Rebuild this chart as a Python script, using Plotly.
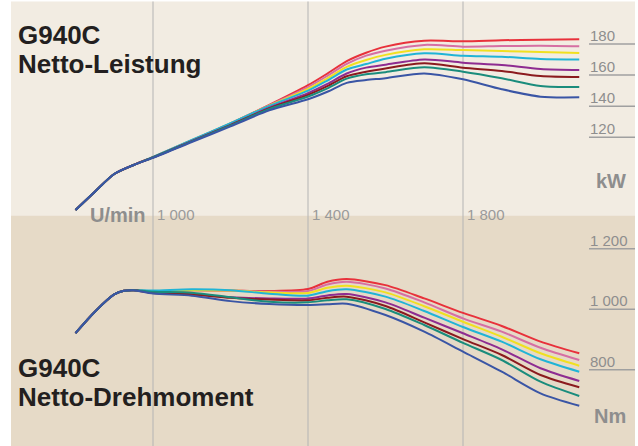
import plotly.graph_objects as go

# ---------------- data ----------------
power_rpm = [800, 850, 900, 950, 1000, 1100, 1200, 1300, 1400, 1450, 1500, 1550, 1600, 1700, 1800, 1900, 2000, 2100]
power_red     = [73.2, 85, 96.4, 102.2, 107.3, 118.0, 129.0, 140.8, 153.5, 161.0, 169.0, 174.4, 178.3, 182.1, 181.7, 182.4, 182.8, 183.0]
power_pink    = [73.2, 85, 96.4, 102.2, 107.3, 118.0, 128.9, 140.5, 152.3, 159.5, 167.2, 172.5, 175.7, 179.4, 178.3, 178.7, 178.9, 178.5]
power_yellow  = [73.2, 85, 96.4, 102.2, 107.3, 118.1, 128.9, 140.3, 151.1, 157.9, 165.3, 169.7, 173.0, 176.6, 176.1, 175.5, 174.9, 174.2]
power_cyan    = [73.2, 85, 96.4, 102.2, 107.4, 118.3, 129.1, 140.2, 150.0, 156.5, 163.6, 167.1, 170.5, 174.0, 172.5, 171.8, 170.4, 170.1]
power_purple  = [73.2, 85, 96.4, 102.2, 107.1, 117.6, 128.0, 139.0, 148.4, 154.3, 161.0, 164.8, 166.7, 170.1, 168.0, 166.5, 163.9, 163.2]
power_darkred = [73.2, 85, 96.4, 102.2, 107.0, 117.4, 127.8, 138.6, 147.3, 152.9, 159.3, 162.2, 164.3, 167.6, 164.8, 162.6, 159.4, 158.8]
power_teal    = [73.2, 85, 96.4, 102.2, 107.0, 117.4, 127.6, 138.2, 146.2, 151.5, 157.7, 160.5, 161.9, 165.0, 162.2, 158.0, 153.0, 152.3]
power_blue    = [73.2, 85, 96.4, 102.2, 106.8, 117.0, 127.0, 137.3, 144.5, 149.3, 155.0, 156.8, 158.0, 161.1, 157.3, 150.9, 146.1, 145.7]

torque_rpm = [800, 850, 900, 925, 950, 1000, 1100, 1200, 1300, 1400, 1450, 1500, 1600, 1700, 1800, 1900, 2000, 2100]
torque_red     = [921, 992, 1049, 1061, 1063, 1060, 1063, 1062, 1060.5, 1067, 1091, 1100, 1080, 1036, 988, 945, 893, 854.5]
torque_pink    = [921, 992, 1049, 1061, 1063, 1060, 1063, 1062, 1058, 1060.5, 1082, 1091, 1069, 1023, 970, 926, 873, 832.4]
torque_yellow  = [921, 992, 1049, 1061, 1063, 1060, 1063, 1062, 1056, 1054, 1071, 1078, 1056, 1010, 959, 909.4, 854.5, 813.6]
torque_cyan    = [921, 992, 1049, 1061, 1063, 1062, 1066, 1063, 1051.6, 1045, 1060, 1066, 1041.8, 994.4, 941.5, 893, 834.7, 793.7]
torque_purple  = [921, 992, 1049, 1061, 1063, 1055, 1050, 1040, 1036, 1036, 1046, 1050.6, 1023, 972.3, 920.7, 867.8, 805, 763]
torque_darkred = [921, 992, 1049, 1061, 1063, 1054, 1049, 1038, 1032, 1029.6, 1038, 1041.8, 1011, 957, 901.5, 849, 782.8, 742.2]
torque_teal    = [921, 992, 1049, 1061, 1063, 1058, 1055, 1040, 1025, 1023, 1030, 1033, 1001, 948, 889, 832.4, 760.7, 713.4]
torque_blue    = [921, 992, 1049, 1061, 1063, 1052, 1045, 1027, 1017.5, 1014, 1016.5, 1018.5, 981, 926, 860, 793.8, 722.3, 681.3]

series_colors = ["#e8313b", "#d66fa3", "#f0e020", "#20b4d6", "#8e2c91", "#8b1a1e", "#1a8c7c", "#3a55a5"]
power_series = [power_red, power_pink, power_yellow, power_cyan, power_purple, power_darkred, power_teal, power_blue]
torque_series = [torque_red, torque_pink, torque_yellow, torque_cyan, torque_purple, torque_darkred, torque_teal, torque_blue]

x_grid = [1000, 1400, 1800]
x_labels = ["1 000", "1 400", "1 800"]
kw_ticks = [120, 140, 160, 180]
kw_labels = ["120", "140", "160", "180"]
nm_ticks = [800, 1000, 1200]
nm_labels = ["800", "1 000", "1 200"]

# ---------------- figure ----------------
W, H = 638, 446
FONT = "Liberation Sans, Arial, Helvetica, sans-serif"
GREY = "#8e8e8e"

def py(p):  # pixel y -> paper
    return 1 - p / H

def px(p):
    return p / W

fig = go.Figure()
for vals, col in zip(power_series, series_colors):
    fig.add_trace(go.Scatter(x=power_rpm, y=vals, mode="lines", line=dict(color=col, width=2, shape="spline", smoothing=0.8),
                             xaxis="x", yaxis="y", hoverinfo="skip", showlegend=False))
for vals, col in zip(torque_series, series_colors):
    fig.add_trace(go.Scatter(x=torque_rpm, y=vals, mode="lines", line=dict(color=col, width=2, shape="spline", smoothing=0.8),
                             xaxis="x", yaxis="y2", hoverinfo="skip", showlegend=False))

shapes = []
shapes.append(dict(type="rect", xref="paper", yref="paper", x0=px(11), x1=px(635), y0=py(215.5), y1=py(1.5),
                   fillcolor="#f2ece2", line=dict(width=0), layer="below"))
shapes.append(dict(type="rect", xref="paper", yref="paper", x0=px(11), x1=px(635), y0=0, y1=py(215.5),
                   fillcolor="#e6dac7", line=dict(width=0), layer="below"))
for g in x_grid:
    shapes.append(dict(type="line", xref="x", yref="paper", x0=g, x1=g, y0=0, y1=py(1.5),
                       line=dict(color="#b4b4b4", width=1), layer="below"))
for t in kw_ticks:
    shapes.append(dict(type="line", xref="paper", yref="y", x0=px(589), x1=px(635), y0=t, y1=t,
                       line=dict(color="#a0a0a0", width=1.5), layer="below"))
for t in nm_ticks:
    shapes.append(dict(type="line", xref="paper", yref="y2", x0=px(589), x1=px(635), y0=t, y1=t,
                       line=dict(color="#a0a0a0", width=1.5), layer="below"))

ann = []
for t, lab in zip(kw_ticks, kw_labels):
    ann.append(dict(text=lab, xref="paper", yref="y", x=px(588), y=t, xanchor="left", yanchor="bottom",
                    yshift=-2, showarrow=False, font=dict(family=FONT, size=15, color=GREY)))
for t, lab in zip(nm_ticks, nm_labels):
    ann.append(dict(text=lab, xref="paper", yref="y2", x=px(588), y=t, xanchor="left", yanchor="bottom",
                    yshift=-2, showarrow=False, font=dict(family=FONT, size=15, color=GREY)))
for g, lab in zip(x_grid, x_labels):
    ann.append(dict(text=lab, xref="x", yref="paper", x=g, y=py(215), xanchor="left", yanchor="middle",
                    xshift=2, showarrow=False, font=dict(family=FONT, size=15, color="#9a9a9a")))
ann.append(dict(text="<b>U/min</b>", xref="paper", yref="paper", x=px(148), y=py(215), xanchor="right", yanchor="middle",
                showarrow=False, font=dict(family=FONT, size=20, color="#8e8e8e")))
ann.append(dict(text="<b>kW</b>", xref="paper", yref="paper", x=px(628), y=py(181), xanchor="right", yanchor="middle",
                showarrow=False, font=dict(family=FONT, size=20, color="#8e8e8e")))
ann.append(dict(text="<b>Nm</b>", xref="paper", yref="paper", x=px(628), y=py(416), xanchor="right", yanchor="middle",
                showarrow=False, font=dict(family=FONT, size=20, color="#8e8e8e")))
for txt, cy in [("G940C", 35), ("Netto-Leistung", 64), ("G940C", 368), ("Netto-Drehmoment", 397)]:
    ann.append(dict(text="<b>" + txt + "</b>", xref="paper", yref="paper", x=px(16), y=py(cy), xanchor="left", yanchor="middle",
                    showarrow=False, font=dict(family=FONT, size=26, color="#231f20")))

x0 = 1000 - 153 / 0.3875
x1 = x0 + W / 0.3875
fig.update_layout(
    width=W, height=H, margin=dict(l=0, r=0, t=0, b=0),
    paper_bgcolor="white", plot_bgcolor="rgba(0,0,0,0)",
    xaxis=dict(domain=[0, 1], range=[x0, x1], visible=False, fixedrange=True),
    yaxis=dict(domain=[0, 1], range=[180 - 402 / 1.555, 180 + 44 / 1.555], visible=False, fixedrange=True),
    yaxis2=dict(domain=[0, 1], range=[1000 - 136.7 / 0.3025, 1000 + 309.3 / 0.3025], visible=False,
                overlaying="y", fixedrange=True),
    shapes=shapes, annotations=ann, showlegend=False,
)
fig.write_html("out.html", config={"displayModeBar": False, "staticPlot": True},
               post_script="document.body.style.margin='0';document.body.style.overflow='hidden';")
